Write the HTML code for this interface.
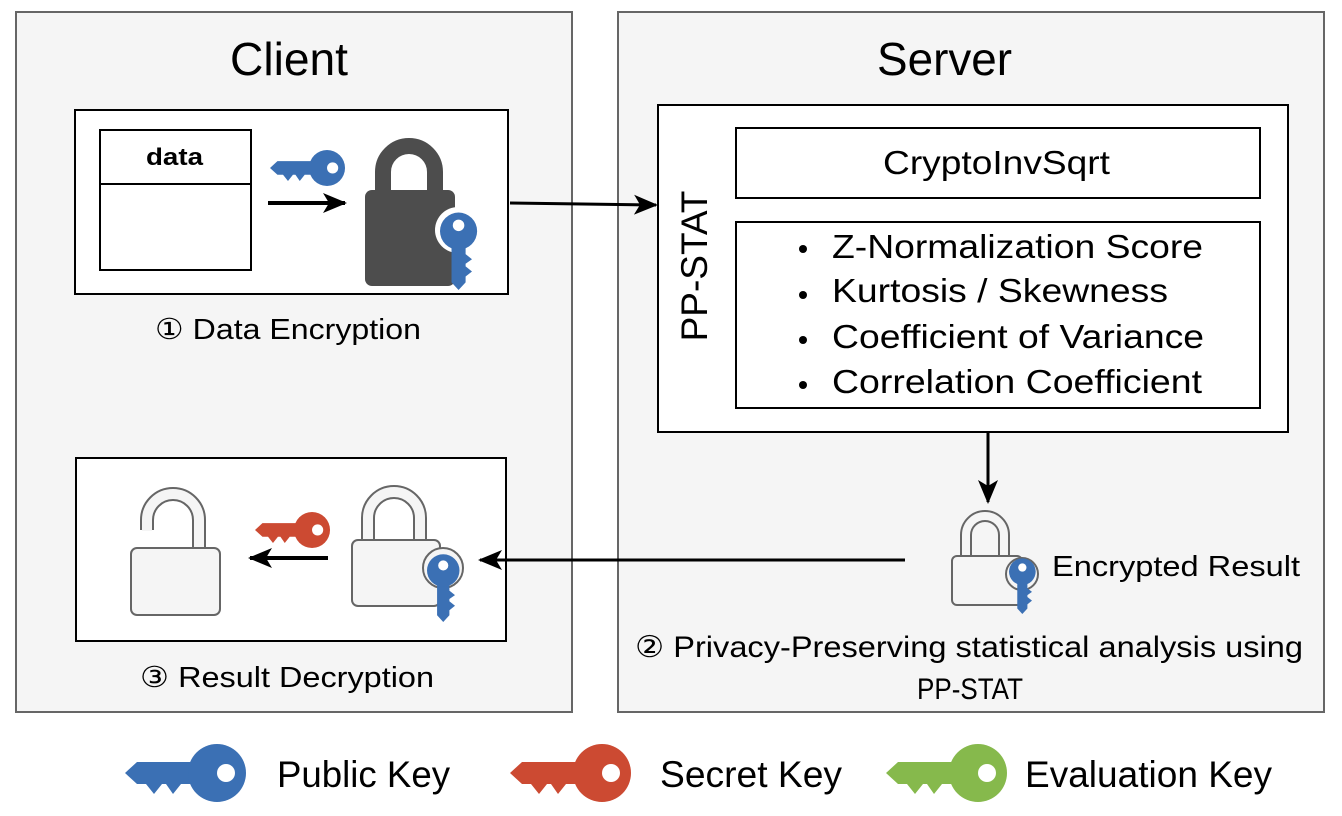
<!DOCTYPE html>
<html><head><meta charset="utf-8"><style>
html,body{margin:0;padding:0;background:#fff}
svg{display:block}
text{font-family:"Liberation Sans","DejaVu Sans",sans-serif;fill:#000}
</style></head><body>
<svg width="1342" height="816" viewBox="0 0 1342 816" xmlns="http://www.w3.org/2000/svg">
<defs>
<symbol id="key" viewBox="0 0 122 58" width="122" height="58" overflow="visible">
<path d="M0,29 L12,18 L72,18 L72,40 L56,40 L48,50 L41,40 L37,40 L29,50 L21,40 L12,40 Z"/>
<circle cx="92" cy="29" r="29"/>
<circle cx="101" cy="29" r="9" fill="#fff"/>
</symbol>
<marker id="ahb" markerWidth="24" markerHeight="20" refX="22" refY="10" orient="auto" markerUnits="userSpaceOnUse" viewBox="0 0 24 20">
<path d="M0,0 L24,10 L0,20 L6,10 Z" fill="#000"/>
</marker>
</defs>

<rect x="16" y="12" width="556" height="700" fill="#f5f5f5" stroke="#666" stroke-width="2"/>
<rect x="618" y="12" width="706" height="700" fill="#f5f5f5" stroke="#666" stroke-width="2"/>
<text x="230" y="75" font-size="46" textLength="118" lengthAdjust="spacingAndGlyphs">Client</text>
<text x="877" y="75" font-size="46" textLength="135" lengthAdjust="spacingAndGlyphs">Server</text>

<rect x="75" y="110" width="433" height="184" fill="#fff" stroke="#000" stroke-width="2"/>
<rect x="100" y="130" width="151" height="140" fill="#fff" stroke="#000" stroke-width="2"/>
<line x1="100" y1="184" x2="251" y2="184" stroke="#000" stroke-width="2"/>
<text x="146" y="165" font-size="24" font-weight="bold" textLength="57" lengthAdjust="spacingAndGlyphs">data</text>
<use href="#key" fill="#3b70b4" transform="translate(270,150) scale(0.62)"/>
<line x1="268" y1="203" x2="345" y2="203" stroke="#000" stroke-width="4" marker-end="url(#ahb)"/>
<path d="M383,195 V172 A26,26 0 0 1 435,172 V195" fill="none" stroke="#4d4d4d" stroke-width="16"/>
<rect x="365" y="190" width="90" height="96" rx="7" fill="#4d4d4d"/>
<circle cx="458" cy="230" r="23" fill="#fff"/>
<use href="#key" fill="#3b70b4" transform="translate(440,290) rotate(-90) scale(0.64)"/>
<text x="155" y="339" font-size="29" textLength="266" lengthAdjust="spacingAndGlyphs">① Data Encryption</text>

<rect x="658" y="105" width="630" height="327" fill="#fff" stroke="#000" stroke-width="2"/>
<text transform="translate(707,266) rotate(-90)" font-size="37" text-anchor="middle">PP-STAT</text>
<rect x="736" y="128" width="524" height="70" fill="#fff" stroke="#000" stroke-width="2"/>
<text x="883" y="174" font-size="33" textLength="227" lengthAdjust="spacingAndGlyphs">CryptoInvSqrt</text>
<rect x="736" y="222" width="524" height="186" fill="#fff" stroke="#000" stroke-width="2"/>
<g font-size="33">
<circle cx="803" cy="249" r="4"/><text x="832" y="258" textLength="371" lengthAdjust="spacingAndGlyphs">Z-Normalization Score</text>
<circle cx="803" cy="295" r="4"/><text x="832" y="302" textLength="336" lengthAdjust="spacingAndGlyphs">Kurtosis / Skewness</text>
<circle cx="803" cy="340" r="4"/><text x="832" y="348" textLength="372" lengthAdjust="spacingAndGlyphs">Coefficient of Variance</text>
<circle cx="803" cy="385" r="4"/><text x="832" y="393" textLength="370" lengthAdjust="spacingAndGlyphs">Correlation Coefficient</text>
</g>

<path d="M966,560 V535 A19,19 0 0 1 1004,535 V560" fill="none" stroke="#666" stroke-width="12"/>
<path d="M966,560 V535 A19,19 0 0 1 1004,535 V560" fill="none" stroke="#f5f5f5" stroke-width="8"/>
<rect x="952" y="556" width="70" height="49" rx="5" fill="#f5f5f5" stroke="#666" stroke-width="2"/>
<circle cx="1022" cy="574" r="16" fill="#f5f5f5" stroke="#666" stroke-width="2"/>
<use href="#key" fill="#3b70b4" transform="translate(1009,614) rotate(-90) scale(0.46)"/>
<text x="1052" y="576" font-size="29" textLength="248" lengthAdjust="spacingAndGlyphs">Encrypted Result</text>

<text x="635" y="657" font-size="30" textLength="668" lengthAdjust="spacingAndGlyphs">② Privacy-Preserving statistical analysis using</text>
<text x="917" y="699" font-size="30" textLength="106" lengthAdjust="spacingAndGlyphs">PP-STAT</text>

<rect x="76" y="458" width="430" height="183" fill="#fff" stroke="#000" stroke-width="2"/>
<path d="M147,530 V520 A26,26 0 0 1 199,520 V552" fill="none" stroke="#666" stroke-width="14"/>
<path d="M147,531 V520 A26,26 0 0 1 199,520 V552" fill="none" stroke="#f5f5f5" stroke-width="10"/>
<rect x="131" y="548" width="89" height="67" rx="6" fill="#f5f5f5" stroke="#666" stroke-width="2"/>
<use href="#key" fill="#cc4a32" transform="translate(255,512) scale(0.62)"/>
<line x1="328" y1="558" x2="250" y2="558" stroke="#000" stroke-width="4" marker-end="url(#ahb)"/>
<path d="M368,545 V518 A26,26 0 0 1 420,518 V545" fill="none" stroke="#666" stroke-width="14"/>
<path d="M368,545 V518 A26,26 0 0 1 420,518 V545" fill="none" stroke="#f5f5f5" stroke-width="10"/>
<rect x="352" y="540" width="88" height="66" rx="6" fill="#f5f5f5" stroke="#666" stroke-width="2"/>
<circle cx="443" cy="568" r="20" fill="#f5f5f5" stroke="#666" stroke-width="2"/>
<use href="#key" fill="#3b70b4" transform="translate(427,622) rotate(-90) scale(0.56)"/>
<text x="140" y="687" font-size="29" textLength="294" lengthAdjust="spacingAndGlyphs">③ Result Decryption</text>

<line x1="510" y1="203" x2="656" y2="205" stroke="#000" stroke-width="3" marker-end="url(#ahb)"/>
<line x1="988" y1="432" x2="988" y2="502" stroke="#000" stroke-width="3" marker-end="url(#ahb)"/>
<line x1="905" y1="560" x2="480" y2="560" stroke="#000" stroke-width="3" marker-end="url(#ahb)"/>

<use href="#key" fill="#3b70b4" transform="translate(125,744)"/>
<text x="277" y="787" font-size="37" textLength="173" lengthAdjust="spacingAndGlyphs">Public Key</text>
<use href="#key" fill="#cc4a32" transform="translate(510,744)"/>
<text x="660" y="787" font-size="37" textLength="182" lengthAdjust="spacingAndGlyphs">Secret Key</text>
<use href="#key" fill="#86b94c" transform="translate(886,744)"/>
<text x="1025" y="787" font-size="37" textLength="247" lengthAdjust="spacingAndGlyphs">Evaluation Key</text>
</svg>
</body></html>
